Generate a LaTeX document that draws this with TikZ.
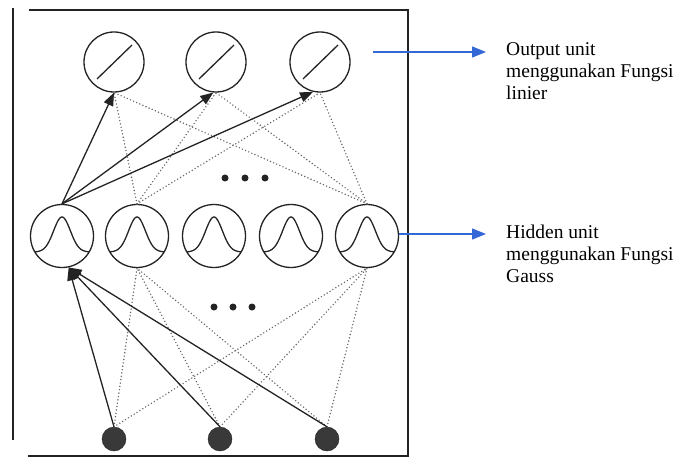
\documentclass[tikz,border=0pt]{standalone}
\usepackage{fontspec}
\setmainfont{Liberation Serif}
\usetikzlibrary{arrows.meta}
\definecolor{linkblue}{RGB}{52,104,214}
\definecolor{ink}{RGB}{35,35,35}
\tikzset{
  frameline/.style={line width=1.6pt, draw=ink},
  unit/.style={circle, draw=ink, line width=1.3pt, fill=white, inner sep=0pt},
  outunit/.style={unit, minimum size=60pt},
  hidunit/.style={unit, minimum size=63pt},
  inunit/.style={circle, fill=ink!90, draw=ink, inner sep=0pt, minimum size=24pt},
  glyph/.style={line width=1.3pt, draw=ink},
  weight/.style={line width=1.3pt, draw=ink, -{Triangle[length=13pt,width=10pt]}},
  link/.style={line width=1.6pt, draw=black!60, dash pattern=on 0pt off 3.4pt, line cap=round},
  ell/.style={circle, fill=ink, inner sep=0pt, minimum size=7pt},
  pointer/.style={line width=1.3pt, draw=linkblue, -{Triangle[length=14pt,width=11pt]}},
  caption/.style={anchor=north west, align=left, font=\fontsize{19.5}{22}\selectfont, inner sep=0pt}
}
\begin{document}
\begin{tikzpicture}[x=1pt, y=-1pt]
\useasboundingbox (0,0) rectangle (682,457);

% frame around the network
\draw[frameline] (13,8) -- (13,440);
\draw[frameline] (29,10) -- (408,10) -- (408,456) -- (28,456);

% output layer
\node[outunit] (o1) at (114,62) {};
\node[outunit] (o2) at (216,62) {};
\node[outunit] (o3) at (320,62) {};

% hidden layer
\node[hidunit] (h1) at (62,236) {};
\node[hidunit] (h2) at (137,236) {};
\node[hidunit] (h3) at (214,236) {};
\node[hidunit] (h4) at (291,236) {};
\node[hidunit] (h5) at (367,236) {};

% input layer
\node[inunit] (i1) at (114,439) {};
\node[inunit] (i2) at (220,439) {};
\node[inunit] (i3) at (327,439) {};

% linear activation glyphs
\foreach \n in {o1,o2,o3}{
  \draw[glyph] ([shift={(-17,17)}]\n.center) -- ([shift={(18,-17)}]\n.center);
}

% Gaussian activation glyphs
\foreach \n in {h1,h2,h3,h4,h5}{
  \begin{scope}[shift={(\n.center)}]
    \draw[glyph] plot[domain=-27:27, samples=61, smooth] (\x, {16 - 35*exp(-(\x*\x)/140)});
  \end{scope}
}

% hidden -> output (dotted)
\foreach \h in {h2,h5}{
  \foreach \o in {o1,o2,o3}{
    \draw[link] (\h.north) -- (\o.south);
  }
}
% input -> hidden (dotted)
\foreach \i in {i1,i2,i3}{
  \foreach \h in {h2,h5}{
    \draw[link] (\i.north) -- (\h.south);
  }
}

% highlighted weights
\draw[weight] (h1.north) -- (o1.south);
\draw[weight] (h1.north) -- (o2.265);
\draw[weight] (h1.north) -- (o3.257);
\coordinate (hin) at (h1.282);
\draw[weight] (i1.north) -- (hin);
\draw[weight] (i2.north) -- (hin);
\draw[weight] (i3.north) -- (hin);

% ellipsis marks
\node[ell] (e1) at (225,178) {};
\node[ell] (e2) at (245,178) {};
\node[ell] (e3) at (265,178) {};
\node[ell] (e4) at (214,307) {};
\node[ell] (e5) at (233,307) {};
\node[ell] (e6) at (252,307) {};

% annotations
\coordinate (pa) at (373,52);
\coordinate (pb) at (486,52);
\draw[pointer] (pa) -- (pb);
\node[caption] (t1) at (506,42) {Output unit\\menggunakan Fungsi\\linier};

\coordinate (pc) at (486,234);
\draw[pointer] (h5.east |- pc) -- (pc);
\node[caption] (t2) at (506,225) {Hidden unit\\menggunakan Fungsi\\Gauss};
\end{tikzpicture}
\end{document}
